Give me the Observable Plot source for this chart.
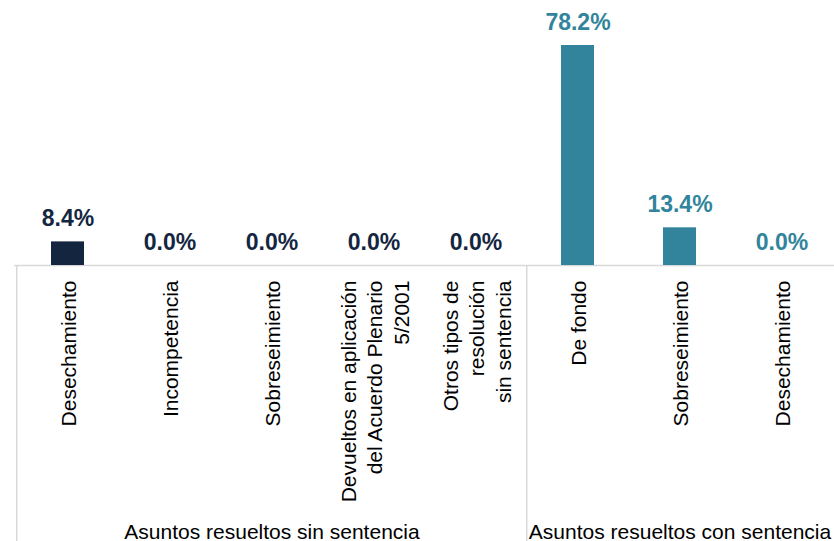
<!DOCTYPE html>
<html>
<head>
<meta charset="utf-8">
<script src="https://cdn.jsdelivr.net/npm/d3@7"></script>
<script src="https://cdn.jsdelivr.net/npm/@observablehq/plot@0.6"></script>
<style>
  body { margin: 0; background: #ffffff; }
  svg { display: block; }
</style>
</head>
<body>
<div id="chart"></div>
<script>
const groups = ["Asuntos resueltos sin sentencia", "Asuntos resueltos con sentencia"];
const categories = [
  "Desechamiento",
  "Incompetencia",
  "Sobreseimiento",
  "Devueltos en aplicación\ndel Acuerdo Plenario\n5/2001",
  "Otros tipos de\nresolución\nsin sentencia",
  "De fondo",
  "Sobreseimiento",
  "Desechamiento"
];
const groupIndex = [0, 0, 0, 0, 0, 1, 1, 1];
const values = [8.4, 0.0, 0.0, 0.0, 0.0, 78.2, 13.4, 0.0];
const groupColors = ["#14263f", "#31849b"];

const W = 834, H = 541;
const marginLeft = 14, marginRight = 0;
const yMin = -98.1, yMax = 94.2;

const keys = categories.map((c, i) => i + "|" + c);
const data = keys.map((k, i) => ({
  key: k,
  label: categories[i],
  value: values[i],
  group: groupIndex[i],
  color: groupColors[groupIndex[i]]
}));
const step = (W - marginLeft - marginRight) / keys.length;

const groupStarts = groups.map((g, gi) => data.find(d => d.group === gi));
const groupMids = groups.map((g, gi) => {
  const members = data.filter(d => d.group === gi);
  return {key: members[Math.floor(members.length / 2)].key, name: g};
});

const font = "'Liberation Sans', Arial, Helvetica, sans-serif";

const chart = Plot.plot({
  width: W,
  height: H,
  marginLeft,
  marginRight,
  marginTop: 0,
  marginBottom: 0,
  style: {fontFamily: font, background: "#ffffff", overflow: "visible"},
  x: {domain: keys, type: "band", paddingInner: 0.68, paddingOuter: 0.34, axis: null},
  y: {domain: [yMin, yMax], axis: null},
  marks: [
    Plot.ruleY([0], {stroke: "#d9d9d9", strokeWidth: 1.5}),
    Plot.ruleX(groupStarts, {x: "key", dx: -step / 2, y1: 0, y2: yMin, stroke: "#d9d9d9", strokeWidth: 1.5}),
    Plot.barY(data, {x: "key", y: "value", fill: "color"}),
    Plot.text(data, {
      x: "key", y: "value",
      text: d => d.value.toFixed(1) + "%",
      fill: "color",
      fontWeight: "bold",
      fontSize: 23,
      fontFamily: font,
      lineAnchor: "bottom",
      dy: -16
    }),
    Plot.text(data, {
      x: "key", y: () => 0,
      text: "label",
      rotate: -90,
      textAnchor: "end",
      lineAnchor: "middle",
      lineHeight: 1.25,
      fontSize: 21,
      fontFamily: font,
      fill: "#000000",
      dy: 15
    }),
    Plot.text(groupMids, {
      x: "key", y: () => yMin,
      text: "name",
      fontSize: 21,
      fontFamily: font,
      fill: "#000000",
      lineAnchor: "bottom",
      dy: -3
    })
  ]
});

document.getElementById("chart").appendChild(chart);
</script>
</body>
</html>
